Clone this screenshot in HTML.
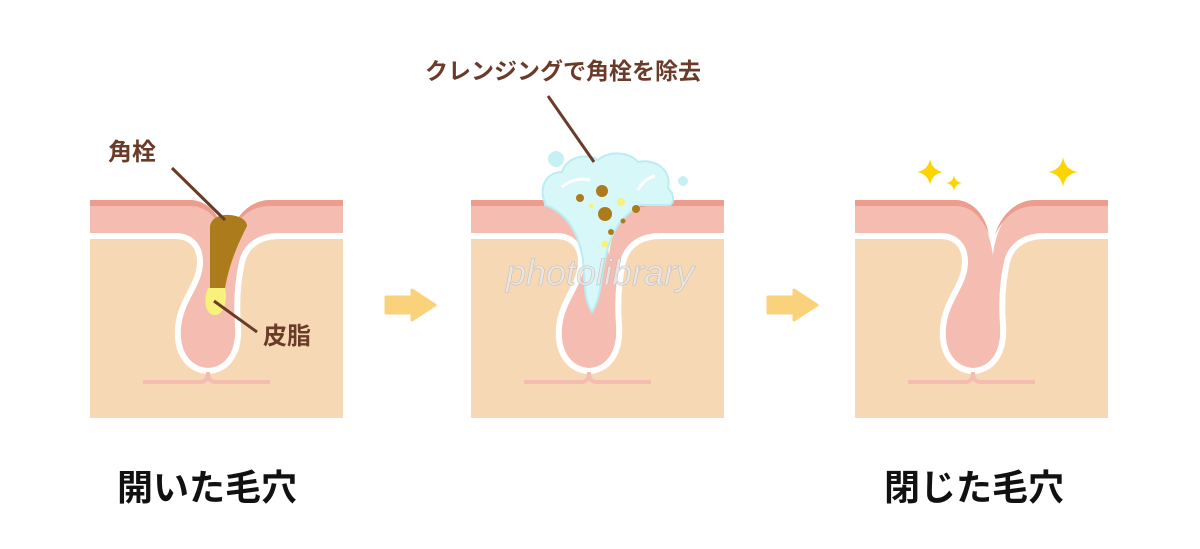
<!DOCTYPE html>
<html><head><meta charset="utf-8"><style>
html,body{margin:0;padding:0;background:#fff;}
body{width:1200px;height:544px;overflow:hidden;}
text{font-family:"Liberation Sans","Noto Sans CJK JP",sans-serif;}
</style></head><body>
<svg width="1200" height="544" viewBox="0 0 1200 544" xmlns="http://www.w3.org/2000/svg">
<defs>
<clipPath id="pc"><rect x="0" y="-40" width="253" height="258"/></clipPath>
<g id="skin">
 <rect x="0" y="30" width="253" height="188" fill="#f6d9b4"/>
 <g clip-path="url(#pc)">
  <path d="M-10,36 L85,36 C100,36 110,45 110,62 C110,85 90,100 88,128 C86,155 100,170 118,171 C136,170 150,155 148,125 C146,100 148,80 152,62 C156,45 170,36 190,36 L265,36 L265,0 L-10,0 Z" fill="#f5bcb1"/>
  <path d="M-10,36 L85,36 C100,36 110,45 110,62 C110,85 90,100 88,128 C86,155 100,170 118,171 C136,170 150,155 148,125 C146,100 148,80 152,62 C156,45 170,36 190,36 L265,36" fill="none" stroke="#fff" stroke-width="6"/>
  <path d="M-10,-50 L265,-50 L265,0 L180,0 C160,0 142,20 138,55 C132,15 115,0 100,0 L-10,0 Z" fill="#fff"/>
  <path d="M-10,0 L100,0 C115,0 130,12 134,35 C126,14 114,6 100,6 L-10,6 Z" fill="#ec9d8d"/>
  <path d="M265,0 L180,0 C162,0 146,14 140,35 C150,14 164,6 180,6 L265,6 Z" fill="#ec9d8d"/>
 </g>
 <path d="M53,182 L110,182 C116,182 118,178 118,172 C118,178 120,182 126,182 L180,182" fill="none" stroke="#f5bcb1" stroke-width="4"/>
</g>
</defs>
<g transform="translate(90,200)"><use href="#skin"/>
 <path d="M120,28 C120,18 130,14 140,15 C150,16 157,20 157,26 C150,40 140,60 135,88 L120,88 Z" fill="#ac7b1c"/>
 <path d="M118,88 L135,88 C138,100 134,115 125,115 C115,115 113,100 118,88 Z" fill="#f7f27c"/>
</g>
<g transform="translate(471,200)"><use href="#skin"/></g>
<g transform="translate(855,200)"><use href="#skin"/></g>
<!-- foam -->
<g>
 <path d="M545,203 C538,185 548,172 562,172 C566,158 585,152 598,160 C610,150 630,152 638,162 C655,158 672,170 668,188 C675,195 674,203 670,205 L640,205 C625,215 612,225 605,260 C600,285 600,300 592,312 C584,300 585,285 583,260 C578,230 565,212 545,205 Z" fill="#d8f7f8" stroke="#b8eef3" stroke-width="2"/>
 <circle cx="556" cy="159" r="8" fill="#c7f0f4"/>
 <circle cx="683" cy="181" r="5" fill="#c7f0f4"/>
 <path d="M562,187 C570,180 580,178 590,180" stroke="#fff" stroke-width="3" fill="none"/>
 <path d="M638,190 C642,182 648,178 655,176" stroke="#fff" stroke-width="3" fill="none"/>
 <circle cx="602" cy="191" r="6" fill="#ac7b1c"/>
 <circle cx="580" cy="198" r="4" fill="#ac7b1c"/>
 <circle cx="605" cy="214" r="7" fill="#ac7b1c"/>
 <circle cx="636" cy="209" r="4" fill="#ac7b1c"/>
 <circle cx="623" cy="221" r="2.5" fill="#ac7b1c"/>
 <circle cx="611" cy="232" r="3" fill="#ac7b1c"/>
 <circle cx="621" cy="202" r="4" fill="#f7f27c"/>
 <circle cx="591" cy="206" r="2.5" fill="#f7f27c"/>
 <circle cx="605" cy="244" r="3.5" fill="#f7f27c"/>
</g>
<text x="600" y="285" font-size="36" font-style="italic" fill="#e8e8e8" stroke="#bbb" stroke-width="0.6" text-anchor="middle" opacity="0.85">photolibrary</text>
<!-- labels -->
<line x1="172" y1="168" x2="225" y2="220" stroke="#6b3b2a" stroke-width="3"/>
<line x1="214" y1="301" x2="257" y2="332" stroke="#6b3b2a" stroke-width="3"/>
<line x1="548" y1="96" x2="594" y2="162" stroke="#6b3b2a" stroke-width="3"/>
<text x="108" y="160" font-size="24" font-weight="bold" fill="#6b3b2a">角栓</text>
<text x="263" y="344" font-size="24" font-weight="bold" fill="#6b3b2a">皮脂</text>
<text x="425" y="79" font-size="23" font-weight="bold" fill="#6b3b2a">クレンジングで角栓を除去</text>
<text x="117" y="500" font-size="36" font-weight="bold" fill="#111">開いた毛穴</text>
<text x="884" y="500" font-size="36" font-weight="bold" fill="#111">閉じた毛穴</text>
<!-- arrows -->
<path d="M386,297 L412,297 L412,290 L435,305 L412,320 L412,313 L386,313 Z" fill="#fbd27c" stroke="#fbd27c" stroke-width="3" stroke-linejoin="round"/>
<path d="M768,297 L794,297 L794,290 L817,305 L794,320 L794,313 L768,313 Z" fill="#fbd27c" stroke="#fbd27c" stroke-width="3" stroke-linejoin="round"/>
<!-- sparkles -->
<path d="M930,159 Q932,170 943,172 Q932,174 930,185 Q928,174 917,172 Q928,170 930,159Z" fill="#fdd400"/>
<path d="M954,175 Q955,182 962,183 Q955,184 954,191 Q953,184 946,183 Q953,182 954,175Z" fill="#fdd400"/>
<path d="M1063,157 Q1065,170 1078,172 Q1065,174 1063,187 Q1061,174 1048,172 Q1061,170 1063,157Z" fill="#fdd400"/>
</svg>
</body></html>
